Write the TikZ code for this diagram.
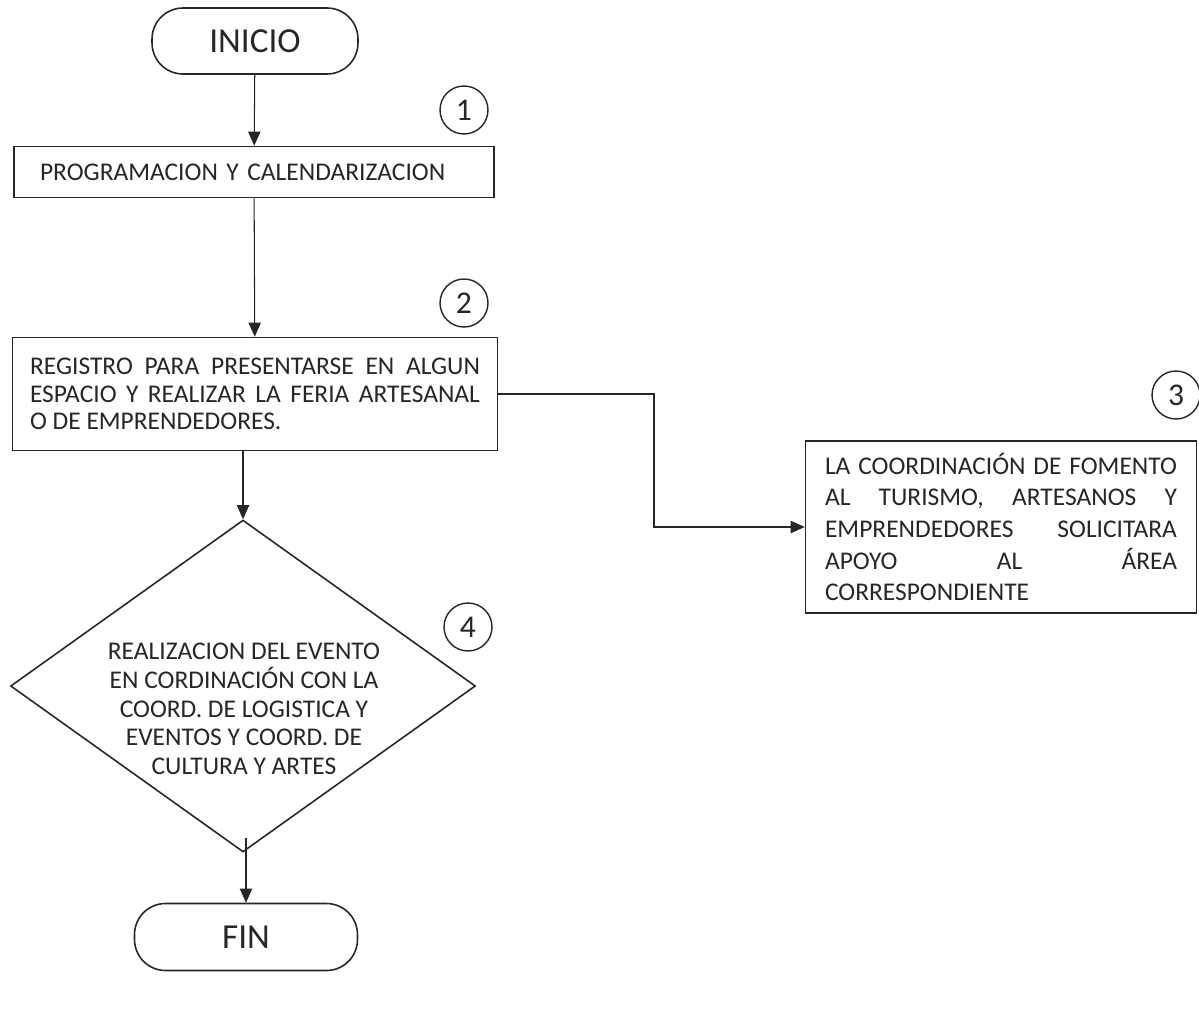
\documentclass[tikz,border=0pt]{standalone}
\usepackage{fontspec}
\setmainfont{Carlito}
\usetikzlibrary{arrows.meta,shapes.geometric}
\def\unitpx{0.02cm}
\tolerance=9999

\begin{document}
\begin{tikzpicture}[x=\unitpx,y=-\unitpx,>={Triangle[width=7pt,length=8pt]},draw=black!85,line width=0.6pt]
  \tikzstyle{terminal}=[draw,rectangle,rounded corners=0.62cm,line width=0.9pt,text=black!85,font=\fontsize{20}{24}\selectfont]
  \tikzstyle{process}=[draw,rectangle,line width=0.9pt,inner sep=0pt,text=black!85,font=\fontsize{14.5}{15.6}\selectfont]
  \tikzstyle{decision}=[draw,diamond,line width=0.9pt,inner sep=0pt]
  \tikzstyle{badge}=[draw,circle,minimum size=0.96cm,inner sep=0pt,line width=0.8pt,text=black!85,font=\fontsize{18}{18}\selectfont]
  \tikzstyle{annot}=[align=center,text=black!85,font=\fontsize{14.5}{16.3}\selectfont]

  \useasboundingbox (0,0) rectangle (1199,1017);

  \node[terminal,minimum width=4.12cm,minimum height=1.32cm] (start) at (255,41) {INICIO};

  \node[process,minimum width=9.6cm,minimum height=1.02cm,text width=8.56cm,align=left]
    (act1) at (254,172) {PROGRAMACION Y CALENDARIZACION};

  \node[process,minimum width=9.7cm,minimum height=2.26cm,text width=9cm,align=justify]
    (act2) at (255,394) {REGISTRO PARA PRESENTARSE EN ALGUN\linebreak
    ESPACIO Y REALIZAR LA FERIA ARTESANAL\linebreak O DE EMPRENDEDORES.};

  \node[process,minimum width=7.82cm,minimum height=3.44cm,text width=7.04cm,align=justify,
    font=\fontsize{14.5}{18}\selectfont]
    (act3) at (1001,527) {LA COORDINACIÓN DE FOMENTO\linebreak AL TURISMO, ARTESANOS Y\linebreak
    EMPRENDEDORES SOLICITARA\linebreak APOYO AL ÁREA\linebreak CORRESPONDIENTE};

  \node[decision,minimum width=9.3cm,minimum height=6.64cm] (act4) at (243,686) {};
  \node[annot] (act4-text) at (244,709) {REALIZACION DEL EVENTO\\EN CORDINACIÓN CON LA\\
    COORD. DE LOGISTICA Y\\EVENTOS Y COORD. DE\\CULTURA Y ARTES};

  \node[terminal,minimum width=4.46cm,minimum height=1.34cm] (fin) at (246,937) {FIN};

  \foreach \name / \x / \y in {1/464/110, 2/464/303, 3/1176/395, 4/468/627}
    \node[badge] (num-\name) at (\x,\y) {\name};

  \draw[->] (start) -- (act1);
  \draw[->] (act1) -- (act2);
  \coordinate (bend) at (654,460);
  \draw[->] (act2.east) -| (bend) |- (act3.west);
  \draw[->] (act4.north |- act2.south) -- (act4.north);
  \draw[->] ([yshift=0.3cm]fin.north |- act4.south) -- (fin.north);
\end{tikzpicture}
\end{document}
